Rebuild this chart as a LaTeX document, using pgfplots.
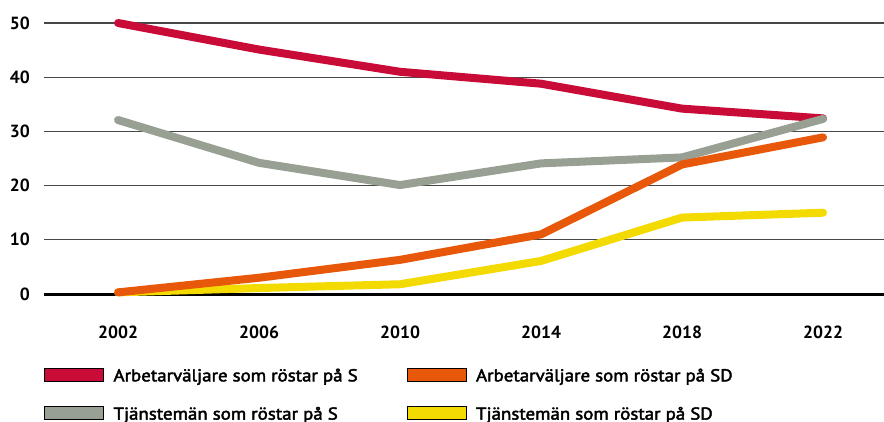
\documentclass[border=0pt]{standalone}
\usepackage{fontspec}
\setmainfont{PT Sans}
\newfontfamily\legfont{PT Sans}[FakeBold=2.5, FakeStretch=1.1]
\usepackage{pgfplots}
\pgfplotsset{compat=1.18}
\definecolor{cred}{RGB}{200,12,55}
\definecolor{cgray}{RGB}{152,160,148}
\definecolor{corange}{RGB}{232,88,10}
\definecolor{cyellow}{RGB}{243,218,0}
\begin{document}
\begin{tikzpicture}
\useasboundingbox (0,0) rectangle (663pt,315.75pt);
\begin{axis}[
  at={(33pt,95.25pt)}, anchor=south west,
  scale only axis, width=630pt, height=203.25pt,
  xmin=1999.9, xmax=2023.73, ymin=0, ymax=50,
  clip=false,
  axis line style={draw=none},
  major tick length=0pt,
  xtick={2002,2006,2010,2014,2018,2022},
  ytick={10,20,30,40,50},
  extra y ticks={0},
  extra y tick style={major grid style={draw=black, line width=2.25pt}},
  ymajorgrids,
  grid style={line width=0.9pt, color=black!72},
  /pgf/number format/assume math mode=true,
  xticklabel style={/pgf/number format/1000 sep={}, anchor=base, inner sep=0pt, yshift=-33.3pt},
  yticklabel style={anchor=east, inner sep=0pt, xshift=-10.5pt},
  ticklabel style={font=\bfseries\fontsize{13.2}{15}\selectfont},
  legend columns=2,
  legend cell align=left,
  legend style={at={(axis description cs:0,-0.2718)}, anchor=north west,
    draw=none, fill=none, inner sep=0pt, outer sep=0pt,
    /tikz/column sep=0pt,
    /tikz/every odd column/.append style={column sep=7.5pt},
    /tikz/row sep=15.45pt,
    nodes={inner sep=0pt, text height=10pt, text depth=3pt},
    font=\legfont\fontsize{12.9}{15}\selectfont},
  legend image code/.code={\fill[#1] (0pt,-3.55pt) rectangle (44.25pt,6.55pt);},
]
\addplot[cred, line width=6pt, line cap=round, line join=round, forget plot]
  coordinates {(2002,50)(2006,45.1)(2010,41)(2014,38.8)(2018,34.2)(2022,32.4)};
\addplot[cgray, line width=6pt, line cap=round, line join=round, forget plot]
  coordinates {(2002,32.1)(2006,24.2)(2010,20.1)(2014,24.1)(2018,25.2)(2022,32.3)};
\addplot[cyellow, line width=6pt, line cap=round, line join=round, forget plot]
  coordinates {(2002,0.3)(2006,1.1)(2010,1.8)(2014,6.1)(2018,14.1)(2022,15)};
\addplot[corange, line width=6pt, line cap=round, line join=round, forget plot]
  coordinates {(2002,0.3)(2006,3)(2010,6.3)(2014,11)(2018,23.9)(2022,28.9)};
\addlegendimage{fill=cred}
\addlegendentry{\makebox[219.75pt][l]{Arbetarväljare som röstar på S}}
\addlegendimage{fill=corange}
\addlegendentry{\makebox[219.75pt][l]{Arbetarväljare som röstar på SD}}
\addlegendimage{fill=cgray}
\addlegendentry{\makebox[219.75pt][l]{Tjänstemän som röstar på S}}
\addlegendimage{fill=cyellow}
\addlegendentry{\makebox[219.75pt][l]{Tjänstemän som röstar på SD}}
\end{axis}
\end{tikzpicture}
\end{document}
